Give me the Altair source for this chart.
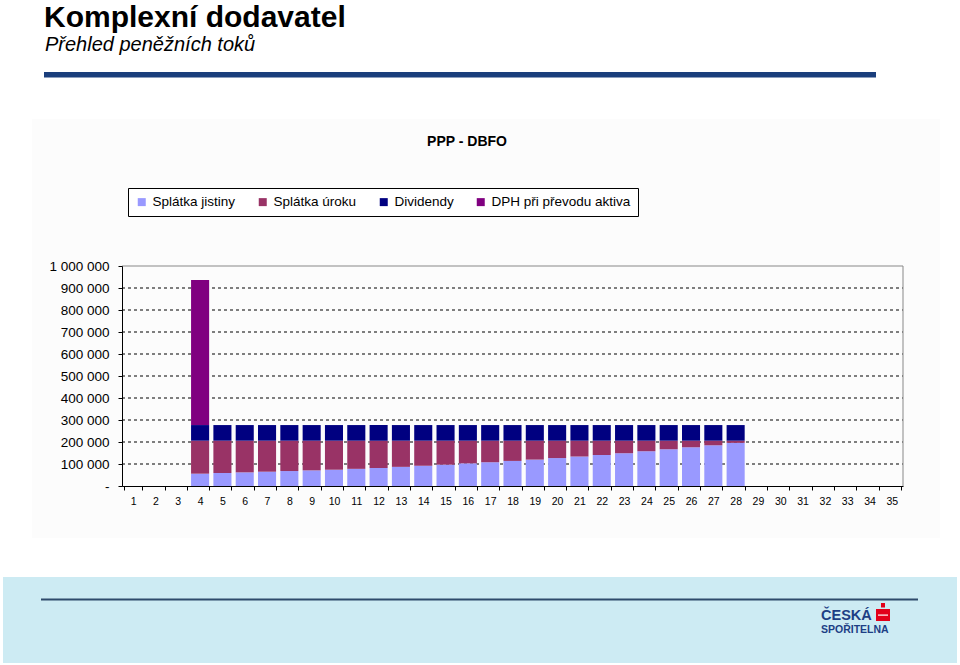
import altair as alt
import pandas as pd

# ---------------- data ----------------
years = list(range(1, 36))
active_years = list(range(4, 29))
splatka_jistiny = [56000, 59000, 62000, 65000, 68000, 71000, 74000, 78000, 82000, 87000,
                   92000, 97000, 103000, 108000, 114000, 120000, 127000, 134000, 141000, 149000,
                   158000, 167000, 176000, 185000, 196000]
splatka_uroku = [150000, 147000, 144000, 141000, 138000, 135000, 132000, 128000, 124000, 119000,
                 114000, 109000, 103000, 98000, 92000, 86000, 79000, 72000, 65000, 57000,
                 48000, 39000, 30000, 21000, 10000]
dividendy = [71000] * 25
dph = [659000] + [0] * 24
series_names = ["Splátka jistiny", "Splátka úroku", "Dividendy", "DPH při převodu aktiva"]
series_colors = ["#9999FF", "#993366", "#000080", "#800080"]
y_ticks = [0, 100000, 200000, 300000, 400000, 500000, 600000, 700000, 800000, 900000, 1000000]
grid_values = [100000, 200000, 300000, 400000, 500000, 600000, 700000, 800000, 900000]

rows = []
for i, yr in enumerate(active_years):
    for k, vals in enumerate([splatka_jistiny, splatka_uroku, dividendy, dph]):
        if vals[i] > 0:
            rows.append({"rok": yr, "hodnota": vals[i], "rada": series_names[k], "poradi": k})
df = pd.DataFrame(rows)
grid_df = pd.DataFrame({"hodnota": grid_values})
one = pd.DataFrame({"a": [1]})

W, H = 781, 220
OX, OY = 122, 266  # plot origin on page

FONT = "Arial, Liberation Sans, sans-serif"

def px(x):
    return x - OX

def py(y):
    return y - OY

y_axis = alt.Axis(values=y_ticks, grid=False, zindex=1, title=None,
                  labelExpr="datum.value == 0 ? '-' : join(split(format(datum.value, ','), ','), ' ')",
                  domainColor="black", tickColor="black", tickSize=4, labelPadding=9,
                  labelFontSize=13.5, labelColor="black", labelFont=FONT)
y_scale = alt.Scale(domain=[0, 1000000], nice=False)

x_enc = alt.X("rok:O", title=None,
              scale=alt.Scale(domain=years, paddingInner=0.19, paddingOuter=0.095),
              axis=alt.Axis(labelAngle=0, tickBand="extent", zindex=1, domainColor="black",
                            tickColor="black", tickSize=4, labelPadding=6, labelFontSize=10.5,
                            labelColor="black", labelFont=FONT))

# page background of the pasted chart image
bg = alt.Chart(one).mark_rect(color="#FCFCFC").encode(
    x=alt.value(px(32)), x2=alt.value(px(940)), y=alt.value(py(119)), y2=alt.value(py(538)))

footer = alt.Chart(one).mark_rect(color="#CDEBF3").encode(
    x=alt.value(px(3)), x2=alt.value(px(957)), y=alt.value(py(577)), y2=alt.value(py(663)))
footer_line = alt.Chart(one).mark_rect(color="#2E4A6B").encode(
    x=alt.value(px(41)), x2=alt.value(px(918)), y=alt.value(py(598.5)), y2=alt.value(py(600.5)))
top_rule = alt.Chart(one).mark_rect(color="#1A3E7C").encode(
    x=alt.value(px(44)), x2=alt.value(px(876)), y=alt.value(py(72)), y2=alt.value(py(77.5)))

title = alt.Chart(one).mark_text(font=FONT, fontSize=30, fontWeight="bold", align="left",
                                 baseline="alphabetic", color="black").encode(
    x=alt.value(px(44)), y=alt.value(py(26.5)), text=alt.value("Komplexní dodavatel"))
subtitle = alt.Chart(one).mark_text(font=FONT, fontSize=20, fontStyle="italic", align="left",
                                    baseline="alphabetic", color="black").encode(
    x=alt.value(px(45)), y=alt.value(py(51)), text=alt.value("Přehled peněžních toků"))
chart_title = alt.Chart(one).mark_text(font=FONT, fontSize=14, fontWeight="bold", align="center",
                                       baseline="alphabetic", color="black").encode(
    x=alt.value(px(467)), y=alt.value(py(146)), text=alt.value("PPP - DBFO"))

grid = alt.Chart(grid_df).mark_rule(color="black", strokeWidth=1, strokeDash=[3, 3]).encode(
    y=alt.Y("hodnota:Q", scale=y_scale, axis=y_axis),
    x=alt.value(0), x2=alt.value(W))

frame_top = alt.Chart(one).mark_rule(color="#888888", strokeWidth=1).encode(
    x=alt.value(0), x2=alt.value(W), y=alt.value(0))
frame_right = alt.Chart(one).mark_rule(color="#888888", strokeWidth=1).encode(
    x=alt.value(W), y=alt.value(0), y2=alt.value(H))

bars = alt.Chart(df).mark_bar().encode(
    x=x_enc,
    y=alt.Y("hodnota:Q", stack="zero", scale=y_scale, axis=y_axis),
    color=alt.Color("rada:N",
                    scale=alt.Scale(domain=series_names, range=series_colors),
                    legend=alt.Legend(orient="none", legendX=6, legendY=-78,
                                      direction="horizontal", title=None,
                                      strokeColor="black", fillColor="white", padding=7,
                                      symbolType="square", symbolSize=64, symbolStrokeWidth=0,
                                      labelFont=FONT, labelFontSize=13.5, labelColor="black",
                                      columnPadding=20)),
    order=alt.Order("poradi:Q", sort="ascending"))

logo1 = alt.Chart(one).mark_text(font="Liberation Sans Narrow, Arial Narrow, Arial", fontSize=14.5,
                                 fontWeight="bold", align="left", baseline="alphabetic",
                                 color="#1D3F85").encode(
    x=alt.value(px(821)), y=alt.value(py(619.5)), text=alt.value("ČESKÁ"))
logo2 = alt.Chart(one).mark_text(font="Liberation Sans Narrow, Arial Narrow, Arial", fontSize=10.5,
                                 fontWeight="bold", align="left", baseline="alphabetic",
                                 color="#1D3F85").encode(
    x=alt.value(px(821)), y=alt.value(py(632.5)), text=alt.value("SPOŘITELNA"))
logo_red = alt.Chart(one).mark_rect(color="#E2001A").encode(
    x=alt.value(px(876)), x2=alt.value(px(890)), y=alt.value(py(609)), y2=alt.value(py(621)))
logo_red_top = alt.Chart(one).mark_rect(color="#E2001A").encode(
    x=alt.value(px(881)), x2=alt.value(px(885)), y=alt.value(py(603)), y2=alt.value(py(607.5)))
logo_stripe = alt.Chart(one).mark_rect(color="white").encode(
    x=alt.value(px(878)), x2=alt.value(px(888)), y=alt.value(py(614.5)), y2=alt.value(py(615.7)))

chart = alt.layer(
    bg, footer, footer_line, top_rule, title, subtitle, chart_title,
    grid, frame_top, frame_right, bars,
    logo_red, logo_red_top, logo_stripe, logo1, logo2
).properties(
    width=W, height=H,
    padding={"left": OX, "top": OY, "right": 960 - OX - W, "bottom": 665 - OY - H},
    autosize=alt.AutoSizeParams(type="none"),
    background="white"
).configure_view(stroke="transparent").configure(font=FONT)

chart.save("out.html", embed_options={"renderer": "svg", "actions": False})
